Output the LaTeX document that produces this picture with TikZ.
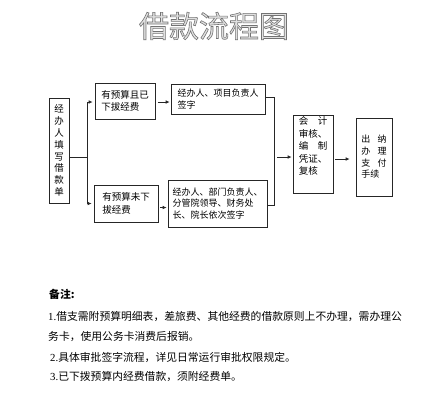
\documentclass[tikz,border=0pt]{standalone}
\usepackage{fontspec}
\setmainfont{Liberation Serif}
\newfontfamily\cjk{Noto Sans CJK SC}
\usetikzlibrary{arrows.meta,calc}
\begin{document}
\begin{tikzpicture}[x=1pt,y=-1pt,
  box/.style={draw=black!85, line width=0.7pt, inner sep=0pt, align=left, font=\cjk\fontsize{9.5}{12.5}\selectfont},
  arr/.style={draw=black!85, line width=0.7pt, -{Latex[length=4pt,width=3.6pt]}},
  ln/.style={draw=black!85, line width=0.7pt},
  note/.style={anchor=west, inner sep=0pt, font=\cjk\fontsize{10.8}{13}\selectfont}]
\useasboundingbox[fill=white] (0,0) rectangle (430,400);

% title
\node[inner sep=0pt, text=black!12, font=\cjk\fontsize{30}{32}\selectfont] (title) at (214,26)
  {\special{pdf:literal direct 2 Tr 0.6 w 0.45 G}借款流程图\special{pdf:literal direct 0 Tr}};

% boxes
\node[box, minimum width=20pt, minimum height=105pt, align=center, font=\cjk\fontsize{9.5}{11.8}\selectfont] (A) at (59,150.5)
  {经\\办\\人\\填\\写\\借\\款\\单};
\node[box, minimum width=60pt, minimum height=36pt] (B) at (125,101) {有预算且已\\下拔经费};
\node[box, minimum width=64pt, minimum height=37pt] (C) at (126,203.5) {有预算未下\\拔经费\hspace{1.9em}};
\node[box, minimum width=94pt, minimum height=30pt, font=\cjk\fontsize{9}{12}\selectfont] (D) at (218,99) {经办人、项目负责人\\签字};
\node[box, minimum width=99pt, minimum height=47pt, font=\cjk\fontsize{9}{11.3}\selectfont] (E) at (217.5,203.5) {经办人、部门负责人、\\分管院领导、财务处\\长、院长依次签字};
\node[box, minimum width=40pt, minimum height=78pt, font=\cjk\fontsize{9.5}{12.5}\selectfont] (F) at (313,154) {会\hspace{1em}计\\审核、\\编\hspace{1em}制\\凭证、\\复核\\[4pt]};
\node[box, minimum width=36pt, minimum height=78pt, font=\cjk\fontsize{9}{11.7}\selectfont] (G) at (374,157) {出\hspace{0.8em}纳\\办\hspace{0.8em}理\\支\hspace{0.8em}付\\手续};

% connectors
\coordinate (j) at (87,157);
\coordinate (m) at (274,157);
\draw[ln] ([yshift=-6.5pt]A.east) -- (j);
\draw[arr, shorten >=2pt] (j) |- ([yshift=-1pt]B.west);
\draw[arr, shorten >=2pt] (j) |- (C.west);
\draw[arr, shorten <=2.5pt, shorten >=1pt] ([yshift=-1pt]B.east) -- ([yshift=-1pt]B.east -| D.west);
\draw[arr, shorten <=2pt, shorten >=1pt] ([yshift=-4pt]C.east) -- ([yshift=-4pt]C.east -| E.west);
\draw[ln] ([yshift=2pt]D.east) -| (m);
\draw[ln] ([yshift=-2pt]E.east) -| (m);
\draw[arr, shorten <=3pt, shorten >=1pt] (m) -- (m -| F.west);
\draw[arr, shorten <=2pt, shorten >=6pt] ([yshift=-5pt]F.east) -- ([yshift=-5pt]F.east -| G.west);

% notes
\node[note, font=\cjk\bfseries\fontsize{10.8}{13}\selectfont] (n0) at (49,294) {备注:};
\node[note] (n1) at (48,317) {{\rmfamily 1.}借支需附预算明细表，差旅费、其他经费的借款原则上不办理，需办理公};
\node[note] (n2) at (48,337) {务卡，使用公务卡消费后报销。};
\node[note] (n3) at (50,357) {{\rmfamily 2.}具体审批签字流程，详见日常运行审批权限规定。};
\node[note] (n4) at (50,377) {{\rmfamily 3.}已下拨预算内经费借款，须附经费单。};
\end{tikzpicture}
\end{document}
